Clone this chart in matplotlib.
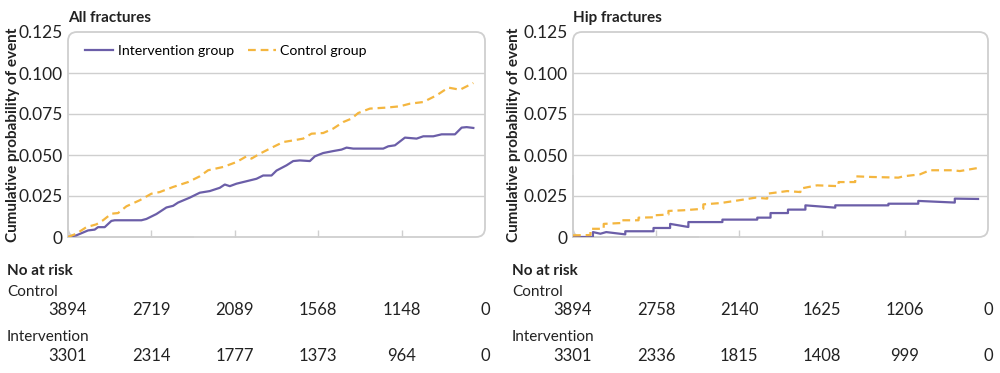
import matplotlib
matplotlib.use("Agg")
import matplotlib.pyplot as plt
from matplotlib.patches import FancyBboxPatch

plt.rcParams['font.family'] = ['Lato', 'DejaVu Sans']

PURPLE = '#6b5ea8'
ORANGE = '#f4b63f'
BORDER = '#cfcfcf'

# All fractures (years, cumulative probability)
all_int_x = [0, 0.1, 0.24, 0.32, 0.36, 0.44, 0.52, 0.56, 0.88, 0.94, 1.06, 1.18, 1.26, 1.32,
             1.46, 1.58, 1.7, 1.82, 1.88, 1.94, 2.02, 2.14, 2.26, 2.34, 2.44, 2.5, 2.62, 2.7,
             2.78, 2.9, 2.96, 3.06, 3.18, 3.28, 3.34, 3.42, 3.78, 3.84, 3.92, 4.04, 4.18, 4.26,
             4.38, 4.48, 4.64, 4.72, 4.78, 4.86]
all_int_y = [0, 0.001, 0.004, 0.0045, 0.006, 0.006, 0.0098, 0.0102, 0.0102, 0.011, 0.014, 0.018,
             0.019, 0.021, 0.024, 0.027, 0.028, 0.030, 0.032, 0.031, 0.0325, 0.034, 0.0355,
             0.0375, 0.0375, 0.0405, 0.0437, 0.0463, 0.0467, 0.0463, 0.0492, 0.0512, 0.0524,
             0.0533, 0.0545, 0.0539, 0.0539, 0.0553, 0.0559, 0.0606, 0.060, 0.0614, 0.0614,
             0.0626, 0.0626, 0.0667, 0.067, 0.0665]
all_ctl_x = [0, 0.1, 0.22, 0.34, 0.42, 0.52, 0.6, 0.7, 0.86, 1.0, 1.1, 1.26, 1.44, 1.58, 1.68,
             1.86, 2.02, 2.14, 2.2, 2.3, 2.46, 2.58, 2.7, 2.82, 2.92, 3.06, 3.18, 3.3, 3.4, 3.48,
             3.62, 3.82, 3.98, 4.1, 4.26, 4.42, 4.56, 4.7, 4.86]
all_ctl_y = [0, 0.002, 0.006, 0.0077, 0.0102, 0.0142, 0.0146, 0.0187, 0.0224, 0.0264, 0.0274,
             0.0305, 0.0335, 0.037, 0.0407, 0.0427, 0.0457, 0.0492, 0.0478, 0.0508, 0.0549,
             0.0579, 0.0589, 0.060, 0.063, 0.0634, 0.0661, 0.0701, 0.0722, 0.0756, 0.0783,
             0.0789, 0.0797, 0.0813, 0.0823, 0.0864, 0.0911, 0.0898, 0.0939]

# Hip fractures
hip_int_x = [0, 0.24, 0.24, 0.33, 0.4, 0.63, 0.63, 0.97, 0.97, 1.17, 1.17, 1.39, 1.39, 1.8, 1.8,
             2.22, 2.22, 2.38, 2.38, 2.59, 2.59, 2.8, 2.8, 3.16, 3.16, 3.8, 3.8, 4.16, 4.16,
             4.6, 4.6, 4.88]
hip_int_y = [0, 0, 0.003, 0.002, 0.003, 0.0016, 0.0035, 0.0035, 0.0055, 0.0055, 0.008, 0.0061,
             0.0091, 0.0091, 0.0106, 0.0106, 0.0118, 0.0118, 0.0146, 0.0146, 0.0167, 0.0167,
             0.0193, 0.0179, 0.0193, 0.0193, 0.0203, 0.0203, 0.022, 0.021, 0.0234, 0.0232]
hip_ctl_x = [0, 0.21, 0.21, 0.37, 0.37, 0.57, 0.57, 0.79, 0.79, 0.97, 0.97, 1.15, 1.15, 1.33,
             1.57, 1.57, 1.78, 2.0, 2.2, 2.34, 2.34, 2.58, 2.74, 2.74, 2.94, 3.2, 3.2, 3.4, 3.4,
             3.6, 3.92, 3.98, 4.18, 4.3, 4.58, 4.66, 4.88]
hip_ctl_y = [0.001, 0.0012, 0.005, 0.005, 0.008, 0.0085, 0.0102, 0.0102, 0.0118, 0.012, 0.0132,
             0.0137, 0.0159, 0.0163, 0.0172, 0.0199, 0.0207, 0.0224, 0.024, 0.0234, 0.0264,
             0.028, 0.0274, 0.0295, 0.0315, 0.031, 0.0335, 0.0335, 0.037, 0.0366, 0.0362,
             0.037, 0.0382, 0.0407, 0.0407, 0.0402, 0.0421]

risk_x = [0, 1, 2, 3, 4, 5]
all_risk_control = ['3894', '2719', '2089', '1568', '1148', '0']
all_risk_interv = ['3301', '2314', '1777', '1373', '964', '0']
hip_risk_control = ['3894', '2758', '2140', '1625', '1206', '0']
hip_risk_interv = ['3301', '2336', '1815', '1408', '999', '0']

yticks = [0, 0.025, 0.05, 0.075, 0.1, 0.125]
ytick_labels = ['0', '0.025', '0.050', '0.075', '0.100', '0.125']

W, H = 1000, 373
fig = plt.figure(figsize=(W / 100, H / 100), dpi=100)
TXT = '#222222'


def make_panel(left_px, width_px, title, ix, iy, cx, cy, rc, ri, label_px, ylab_px, legend):
    ax = fig.add_axes([left_px / W, (H - 237) / H, width_px / W, 205 / H])
    ax.set_xlim(0, 5)
    ax.set_ylim(0, 0.125)
    for s in ax.spines.values():
        s.set_visible(False)
    # rounded frame, square bottom-left corner
    r = 9 / width_px
    box = FancyBboxPatch((0, 0), 1, 1, boxstyle="round,pad=0,rounding_size=%f" % r,
                         mutation_aspect=width_px / 205, transform=ax.transAxes,
                         fill=False, edgecolor=BORDER, lw=1.3, clip_on=False, zorder=1)
    ax.add_patch(box)
    ax.plot([0, 0], [0, 0.3], transform=ax.transAxes, color=BORDER, lw=1.3, clip_on=False)
    ax.plot([0, 0.3], [0, 0], transform=ax.transAxes, color=BORDER, lw=1.3, clip_on=False)
    for yv in yticks[1:-1]:
        ax.axhline(yv, color=BORDER, lw=1.0, zorder=0)
    ax.set_yticks(yticks)
    ax.set_yticklabels(ytick_labels)
    ax.set_xticks([1, 2, 3, 4])
    ax.set_xticklabels([])
    ax.tick_params(axis='x', direction='in', length=5, color=BORDER, width=1)
    ax.tick_params(axis='y', length=0, pad=4, labelsize=12.5, labelcolor=TXT)
    ax.plot(ix, iy, color=PURPLE, lw=1.6, label='Intervention group', zorder=3)
    ax.plot(cx, cy, color=ORANGE, lw=1.6, ls=(0, (3.5, 2.2)), label='Control group', zorder=3)
    ax.set_ylabel('Cumulative probability of event', fontsize=11, fontweight='bold', color=TXT)
    ax.yaxis.set_label_coords(-(left_px - ylab_px) / width_px, 0.5)
    ax.text(0, 1.035, title, transform=ax.transAxes, fontsize=11, fontweight='bold',
            color=TXT, va='bottom', ha='left')
    if legend:
        ax.legend(loc='upper left', bbox_to_anchor=(0.01, 1.0), ncol=2, frameon=False,
                  fontsize=10.2, handlelength=2.0, columnspacing=1.0, handletextpad=0.3)
    # number at risk table
    fig.text(label_px / W, 1 - 271 / H, 'No at risk', fontsize=11, fontweight='bold',
             color=TXT, va='center')
    fig.text(label_px / W, 1 - 292 / H, 'Control', fontsize=11, color=TXT, va='center')
    fig.text(label_px / W, 1 - 337 / H, 'Intervention', fontsize=11, color=TXT, va='center')
    for xv, a, b in zip(risk_x, rc, ri):
        xf = (left_px + width_px * xv / 5) / W
        fig.text(xf, 1 - 310 / H, a, fontsize=12, color=TXT, ha='center', va='center')
        fig.text(xf, 1 - 356 / H, b, fontsize=12, color=TXT, ha='center', va='center')
    return ax


make_panel(68, 417, 'All fractures', all_int_x, all_int_y, all_ctl_x, all_ctl_y,
           all_risk_control, all_risk_interv, 7, 20, True)
make_panel(573, 415, 'Hip fractures', hip_int_x, hip_int_y, hip_ctl_x, hip_ctl_y,
           hip_risk_control, hip_risk_interv, 512, 521, False)

fig.savefig('out.png', dpi=100)
